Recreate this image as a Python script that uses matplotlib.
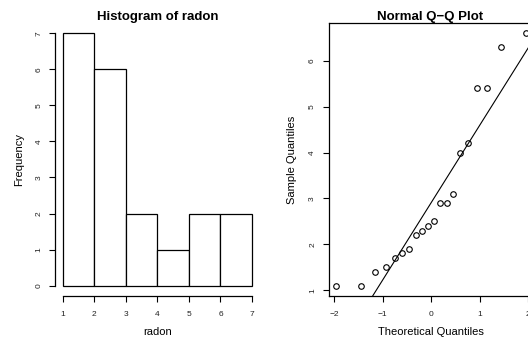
import matplotlib
matplotlib.use("Agg")
import matplotlib.pyplot as plt
import numpy as np
import pandas as pd
from statistics import NormalDist

plt.rcParams['font.family'] = ['Liberation Sans', 'DejaVu Sans']
plt.rcParams['axes.unicode_minus'] = True

# Data
radon = [1.1, 1.1, 1.4, 1.5, 1.7, 1.8, 1.9, 2.2, 2.3, 2.4,
         2.5, 2.9, 2.9, 3.1, 4.0, 4.2, 5.4, 5.4, 6.3, 6.6]
bin_edges = [1, 2, 3, 4, 5, 6, 7]
hist_yticks = [0, 1, 2, 3, 4, 5, 6, 7]
qq_xticks = [-2, -1, 0, 1, 2]
qq_yticks = [1, 2, 3, 4, 5, 6]

W, H = 528, 339
fig = plt.figure(figsize=(W / 100, H / 100), dpi=100)

def frac(left, top, right, bottom):
    return [left / W, 1 - bottom / H, (right - left) / W, (bottom - top) / H]

TICK_FS = 6
LAB_FS = 8
TITLE_FS = 9.5

# ---------- Histogram ----------
ax1 = fig.add_axes(frac(55.2, 23.2, 259.6, 295.7))
counts = pd.cut(pd.Series(radon), bins=bin_edges, right=True, include_lowest=True).value_counts(sort=False).values
ax1.bar(bin_edges[:-1], counts, width=np.diff(bin_edges), align='edge',
        facecolor='white', edgecolor='black', linewidth=0.9)
xr = bin_edges[-1] - bin_edges[0]
ax1.set_xlim(bin_edges[0] - 0.04 * xr, bin_edges[-1] + 0.04 * xr)
yr = max(hist_yticks) - min(hist_yticks)
ax1.set_ylim(-0.04 * yr, max(hist_yticks) + 0.04 * yr)
ax1.set_xticks(bin_edges)
ax1.set_yticks(hist_yticks)
for s in ['top', 'right']:
    ax1.spines[s].set_visible(False)
ax1.spines['bottom'].set_bounds(bin_edges[0], bin_edges[-1])
ax1.spines['left'].set_bounds(min(hist_yticks), max(hist_yticks))
ax1.set_title("Histogram of radon", fontsize=TITLE_FS, fontweight='bold', pad=0)
ax1.title.set_position((0.5, 1.0))
ax1.set_xlabel("radon", fontsize=LAB_FS)
ax1.set_ylabel("Frequency", fontsize=LAB_FS)

# ---------- Q-Q plot ----------
ax2 = fig.add_axes(frac(328.6, 23.2, 534.0, 295.7))
n = len(radon)
y_sorted = np.sort(radon)
a = 3 / 8 if n <= 10 else 0.5
probs = (np.arange(1, n + 1) - a) / (n + 1 - 2 * a)
nd = NormalDist()
theo = np.array([nd.inv_cdf(p) for p in probs])
ax2.plot(theo, y_sorted, linestyle='none', marker='o', markersize=4.0,
         markerfacecolor='none', markeredgecolor='black', markeredgewidth=0.8)
q1, q3 = np.quantile(y_sorted, [0.25, 0.75])
x1, x3 = nd.inv_cdf(0.25), nd.inv_cdf(0.75)
slope = (q3 - q1) / (x3 - x1)
ax2.axline((x1, q1), slope=slope, color='black', linewidth=0.8)
xr2 = theo.max() - theo.min()
ax2.set_xlim(theo.min() - 0.04 * xr2, theo.max() + 0.04 * xr2)
yr2 = y_sorted.max() - y_sorted.min()
ax2.set_ylim(y_sorted.min() - 0.04 * yr2, y_sorted.max() + 0.04 * yr2)
ax2.set_xticks(qq_xticks)
ax2.set_yticks(qq_yticks)
for s in ax2.spines.values():
    s.set_linewidth(0.9)
ax2.set_title("Normal Q\u2212Q Plot", fontsize=TITLE_FS, fontweight='bold', pad=0)
ax2.set_xlabel("Theoretical Quantiles", fontsize=LAB_FS)
ax2.set_ylabel("Sample Quantiles", fontsize=LAB_FS)

for ax in (ax1, ax2):
    ax.tick_params(axis='both', labelsize=TICK_FS, length=4, width=0.8, color='black', labelcolor='#222222')
    ax.tick_params(axis='x', pad=7)
    ax.tick_params(axis='y', pad=5)
    for lab in ax.get_yticklabels():
        lab.set_rotation(90)
        lab.set_va('center')
    ax.spines['left'].set_linewidth(0.9)
    ax.spines['bottom'].set_linewidth(0.9)
    ax.title.set_y(1.0)

# place titles and labels at pixel positions
def ax_coords(ax, px, py):
    inv = ax.transAxes.inverted()
    return inv.transform((px, H - py))

for ax, tx, ylx in ((ax1, 157.4, 19.0), (ax2, 430.5, 292.3)):
    ax.title.set_position(ax_coords(ax, tx, 16.7))
    ax.title.set_va('center')
    ax.xaxis.set_label_coords(*ax_coords(ax, tx, 332.0))
    ax.xaxis.label.set_va('center')
    ax.yaxis.set_label_coords(*ax_coords(ax, ylx, 159.5))
    ax.yaxis.label.set_va('center')
    ax.yaxis.label.set_ha('center')

fig.savefig("out.png", dpi=100)
